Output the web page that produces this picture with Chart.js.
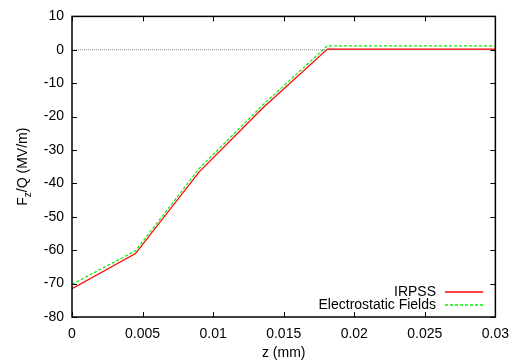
<!DOCTYPE html>
<html><head><meta charset="utf-8">
<script src="https://cdn.jsdelivr.net/npm/chart.js@4/dist/chart.umd.min.js"></script>
<style>html,body{margin:0;padding:0;background:#fff}</style>
</head><body>
<canvas id="c" width="518" height="360"></canvas>
<script>
const zValues = [0, 0.0045, 0.009, 0.0135, 0.0181, 0.03];
const irpss = [-71.5, -61, -36.6, -17.5, 0.2, 0.2];
const electrostatic = [-70.2, -60.2, -35.6, -16.6, 1.2, 1.2];
const zeroLine = [0, 0];
const zeroLineZ = [0, 0.03];
const xTicks = [0, 0.005, 0.01, 0.015, 0.02, 0.025, 0.03];
const yTicks = [10, 0, -10, -20, -30, -40, -50, -60, -70, -80];
const seriesLabels = ['IRPSS', 'Electrostatic Fields'];
const seriesColors = ['rgb(255,0,0)', 'rgb(0,238,0)'];
const seriesDash = [[], [3, 2]];

const FONT = '"Liberation Sans", Arial, sans-serif';
const FS = 14;

const toPts = (xs, ys) => xs.map((x, i) => ({x, y: ys[i]}));

const framePlugin = {
  id: 'frame',
  afterDatasetsDraw(ch) {
    const {ctx, chartArea: a, scales: {x, y}} = ch;
    ctx.save();
    ctx.strokeStyle = '#000';
    ctx.lineWidth = 1;
    const ln = (x1, y1, x2, y2) => { ctx.beginPath(); ctx.moveTo(x1, y1); ctx.lineTo(x2, y2); ctx.stroke(); };
    for (const v of xTicks) {
      const px = Math.round(x.getPixelForValue(v)) + 0.5;
      ln(px, a.bottom, px, a.bottom - 5);
      ln(px, a.top, px, a.top + 5);
    }
    for (const v of yTicks) {
      const py = Math.round(y.getPixelForValue(v)) + 0.5;
      ln(a.left, py, a.left + 5, py);
      ln(a.right, py, a.right - 5, py);
    }
    ctx.lineWidth = 1.5;
    ctx.strokeRect(a.left, a.top, a.right - a.left, a.bottom - a.top);
    ctx.restore();

    // legend
    seriesLabels.forEach((lab, i) => {
      const yy = 292 + i * 13;
      ctx.save();
      ctx.font = FS + 'px ' + FONT;
      ctx.fillStyle = '#000';
      ctx.textAlign = 'right';
      ctx.textBaseline = 'middle';
      ctx.fillText(lab, 436, yy);
      ctx.beginPath();
      ctx.strokeStyle = seriesColors[i];
      ctx.lineWidth = 1.3;
      ctx.setLineDash(seriesDash[i]);
      ctx.moveTo(445, yy);
      ctx.lineTo(483, yy);
      ctx.stroke();
      ctx.restore();
    });

    // axis titles
    ctx.save();
    ctx.fillStyle = '#000';
    ctx.textAlign = 'center';
    ctx.textBaseline = 'middle';
    ctx.font = FS + 'px ' + FONT;
    ctx.fillText('z (mm)', (a.left + a.right) / 2, 353);
    ctx.translate(23, (a.top + a.bottom) / 2);
    ctx.rotate(-Math.PI / 2);
    const p1 = 'F', sub = 'z', p2 = '/Q (MV/m)';
    ctx.font = FS + 'px ' + FONT;
    const w1 = ctx.measureText(p1).width, w3 = ctx.measureText(p2).width;
    ctx.font = '10px ' + FONT;
    const w2 = ctx.measureText(sub).width;
    const total = w1 + w2 + w3;
    let cx = -total / 2;
    ctx.textAlign = 'left';
    ctx.font = FS + 'px ' + FONT;
    ctx.fillText(p1, cx, 0); cx += w1;
    ctx.font = '10px ' + FONT;
    ctx.fillText(sub, cx, 5); cx += w2;
    ctx.font = FS + 'px ' + FONT;
    ctx.fillText(p2, cx, 0);
    ctx.restore();
  }
};

new Chart(document.getElementById('c'), {
  type: 'line',
  data: {
    datasets: [
      {label: seriesLabels[0], data: toPts(zValues, irpss), borderColor: seriesColors[0], borderWidth: 1.2, pointRadius: 0, tension: 0, fill: false},
      {label: seriesLabels[1], data: toPts(zValues, electrostatic), borderColor: seriesColors[1], borderWidth: 1.2, borderDash: seriesDash[1], pointRadius: 0, tension: 0, fill: false},
      {label: 'zero', data: toPts(zeroLineZ, zeroLine), borderColor: '#888888', borderWidth: 1, borderDash: [1, 1], pointRadius: 0, fill: false, order: 5}
    ]
  },
  options: {
    responsive: false,
    animation: false,
    devicePixelRatio: 1,
    layout: {padding: {left: 0, right: 18, top: 15, bottom: 0}},
    plugins: {legend: {display: false}, tooltip: {enabled: false}},
    scales: {
      x: {
        type: 'linear', min: 0, max: 0.03,
        afterBuildTicks: s => { s.ticks = xTicks.map(v => ({value: v})); },
        afterFit: s => { s.height = 43; },
        grid: {display: false, drawTicks: false},
        border: {display: false},
        ticks: {padding: 9, color: '#000', font: {family: FONT, size: FS}, maxRotation: 0,
          callback: v => String(+(+v).toFixed(4))}
      },
      y: {
        type: 'linear', min: -80, max: 10,
        afterBuildTicks: s => { s.ticks = yTicks.map(v => ({value: v})); },
        afterFit: s => { s.width = 72; },
        grid: {display: false, drawTicks: false},
        border: {display: false},
        ticks: {padding: 8, color: '#000', font: {family: FONT, size: FS}}
      }
    }
  },
  plugins: [framePlugin]
});
</script>
</body></html>
